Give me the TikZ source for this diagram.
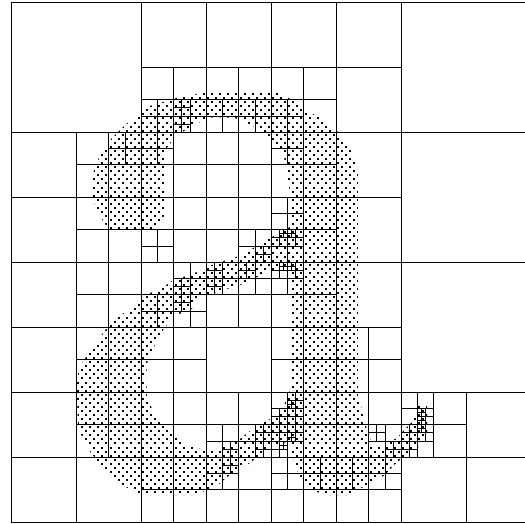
\documentclass[tikz,border=0pt]{standalone}
\begin{document}
\begin{tikzpicture}[
  x=1pt, y=-1pt,
  celda/.style={draw, line width=0.9pt},
  punto/.style={fill, line width=0pt}
]
  \clip (0,0) rectangle (525,523);
  % letra: puntos recortados
  \begin{scope}
    \clip (91,190) -- (94,170) -- (100,155) -- (112,138) -- (125,125) -- (150,106) -- (180,97) -- (210,92)
      -- (280,92) -- (303,108) -- (322,119) -- (337,131) -- (350,147) -- (358,170)
      -- (358,395) -- (362,410) -- (367,430) -- (372,444) -- (382,446) -- (397,438) -- (405,429) -- (413,421) -- (418,406) -- (427,406)
      -- (427,432) -- (418,448) -- (402,458) -- (393,466) -- (385,475) -- (373,482) -- (348,495) -- (323,495) -- (307,486)
      -- (300,477) -- (295,465) -- (291,448) -- (287,442) -- (278,444) -- (265,451) -- (255,459) -- (243,468) -- (227,477) -- (217,486)
      -- (195,495) -- (145,495) -- (133,491) -- (117,482) -- (100,464) -- (88,449) -- (78,428) -- (77,398) -- (77,378) -- (81,365) -- (88,354)
      -- (100,337) -- (113,320) -- (133,307) -- (143,295) -- (160,290) -- (173,280) -- (193,274) -- (206,267) -- (230,259) -- (239,256)
      -- (255,247) -- (272,237) -- (280,232) -- (292,226) -- (290,193) -- (287,172) -- (285,163) -- (283,150) -- (273,143) -- (267,135)
      -- (255,127) -- (247,123) -- (235,118) -- (213,117) -- (198,123) -- (177,135) -- (165,150) -- (165,215) -- (150,231) -- (110,231) -- (97,212) -- cycle
      (291,265) -- (280,268) -- (263,274) -- (243,284) -- (220,291) -- (197,298) -- (193,308) -- (177,315) -- (170,321) -- (163,330) -- (155,345)
      -- (148,358) -- (146,375) -- (147,398) -- (155,415) -- (163,425) -- (173,435) -- (187,445) -- (207,451) -- (220,448) -- (240,439) -- (255,427)
      -- (272,418) -- (283,408) -- (291,388) -- cycle;
    \foreach \fila in {0,...,100} {
      \foreach \col in {0,...,44} {
        \path[punto] ({77+8.125*\col+4.0625*mod(\fila,2)},{90+4.0625*\fila-1}) rectangle ++(2,2);
      }
    }
  \end{scope}
  % arbol: cruz de cada celda dividida
  \begin{scope}[shift={(11.3,2.3)}, x=4.0625pt, y=-4.0625pt]
    \draw[celda] (0,0) rectangle (128,128);
    \foreach \cx/\cy/\cs in {0/0/128,
      0/0/64, 64/0/64, 0/64/64, 64/64/64,
      32/0/32, 0/32/32, 32/32/32, 64/0/32, 64/32/32, 0/64/32, 32/64/32, 0/96/32, 32/96/32, 64/64/32, 64/96/32, 96/96/32,
      32/16/16, 48/16/16, 16/32/16, 16/48/16, 32/32/16, 48/32/16, 32/48/16, 48/48/16, 64/16/16, 64/32/16, 64/48/16,
      16/64/16, 16/80/16, 32/64/16, 48/64/16, 32/80/16, 16/96/16, 32/96/16, 48/96/16, 32/112/16, 48/112/16,
      64/64/16, 64/80/16, 80/80/16, 64/96/16, 80/96/16, 64/112/16, 80/112/16, 96/96/16,
      32/24/8, 40/24/8, 48/24/8, 56/24/8, 24/32/8, 32/32/8, 32/56/8, 56/56/8, 64/24/8, 64/32/8, 64/48/8, 64/56/8,
      40/64/8, 48/64/8, 56/64/8, 32/72/8, 40/72/8, 48/104/8, 56/104/8, 48/112/8, 64/64/8, 64/96/8, 64/104/8, 88/104/8,
      64/112/8, 72/112/8, 80/112/8, 88/112/8, 96/96/8, 96/104/8,
      40/24/4, 40/28/4, 60/60/4, 64/56/4, 68/56/4, 40/68/4, 48/64/4, 48/68/4, 56/64/4, 40/72/4, 52/108/4, 60/104/4, 60/108/4,
      52/112/4, 64/64/4, 68/64/4, 68/96/4, 64/100/4, 68/100/4, 64/104/4, 68/104/4, 64/108/4, 88/104/4, 92/108/4,
      100/100/4, 96/104/4, 100/104/4, 96/108/4,
      66/56/2, 68/56/2, 66/64/2, 68/64/2, 68/98/2, 68/106/2, 66/108/2, 100/100/2, 100/102/2, 100/104/2} {
      \draw[celda] (\cx+\cs/2,\cy) -- ++(0,\cs) (\cx,\cy+\cs/2) -- ++(\cs,0);
    }
  \end{scope}
\end{tikzpicture}
\end{document}
